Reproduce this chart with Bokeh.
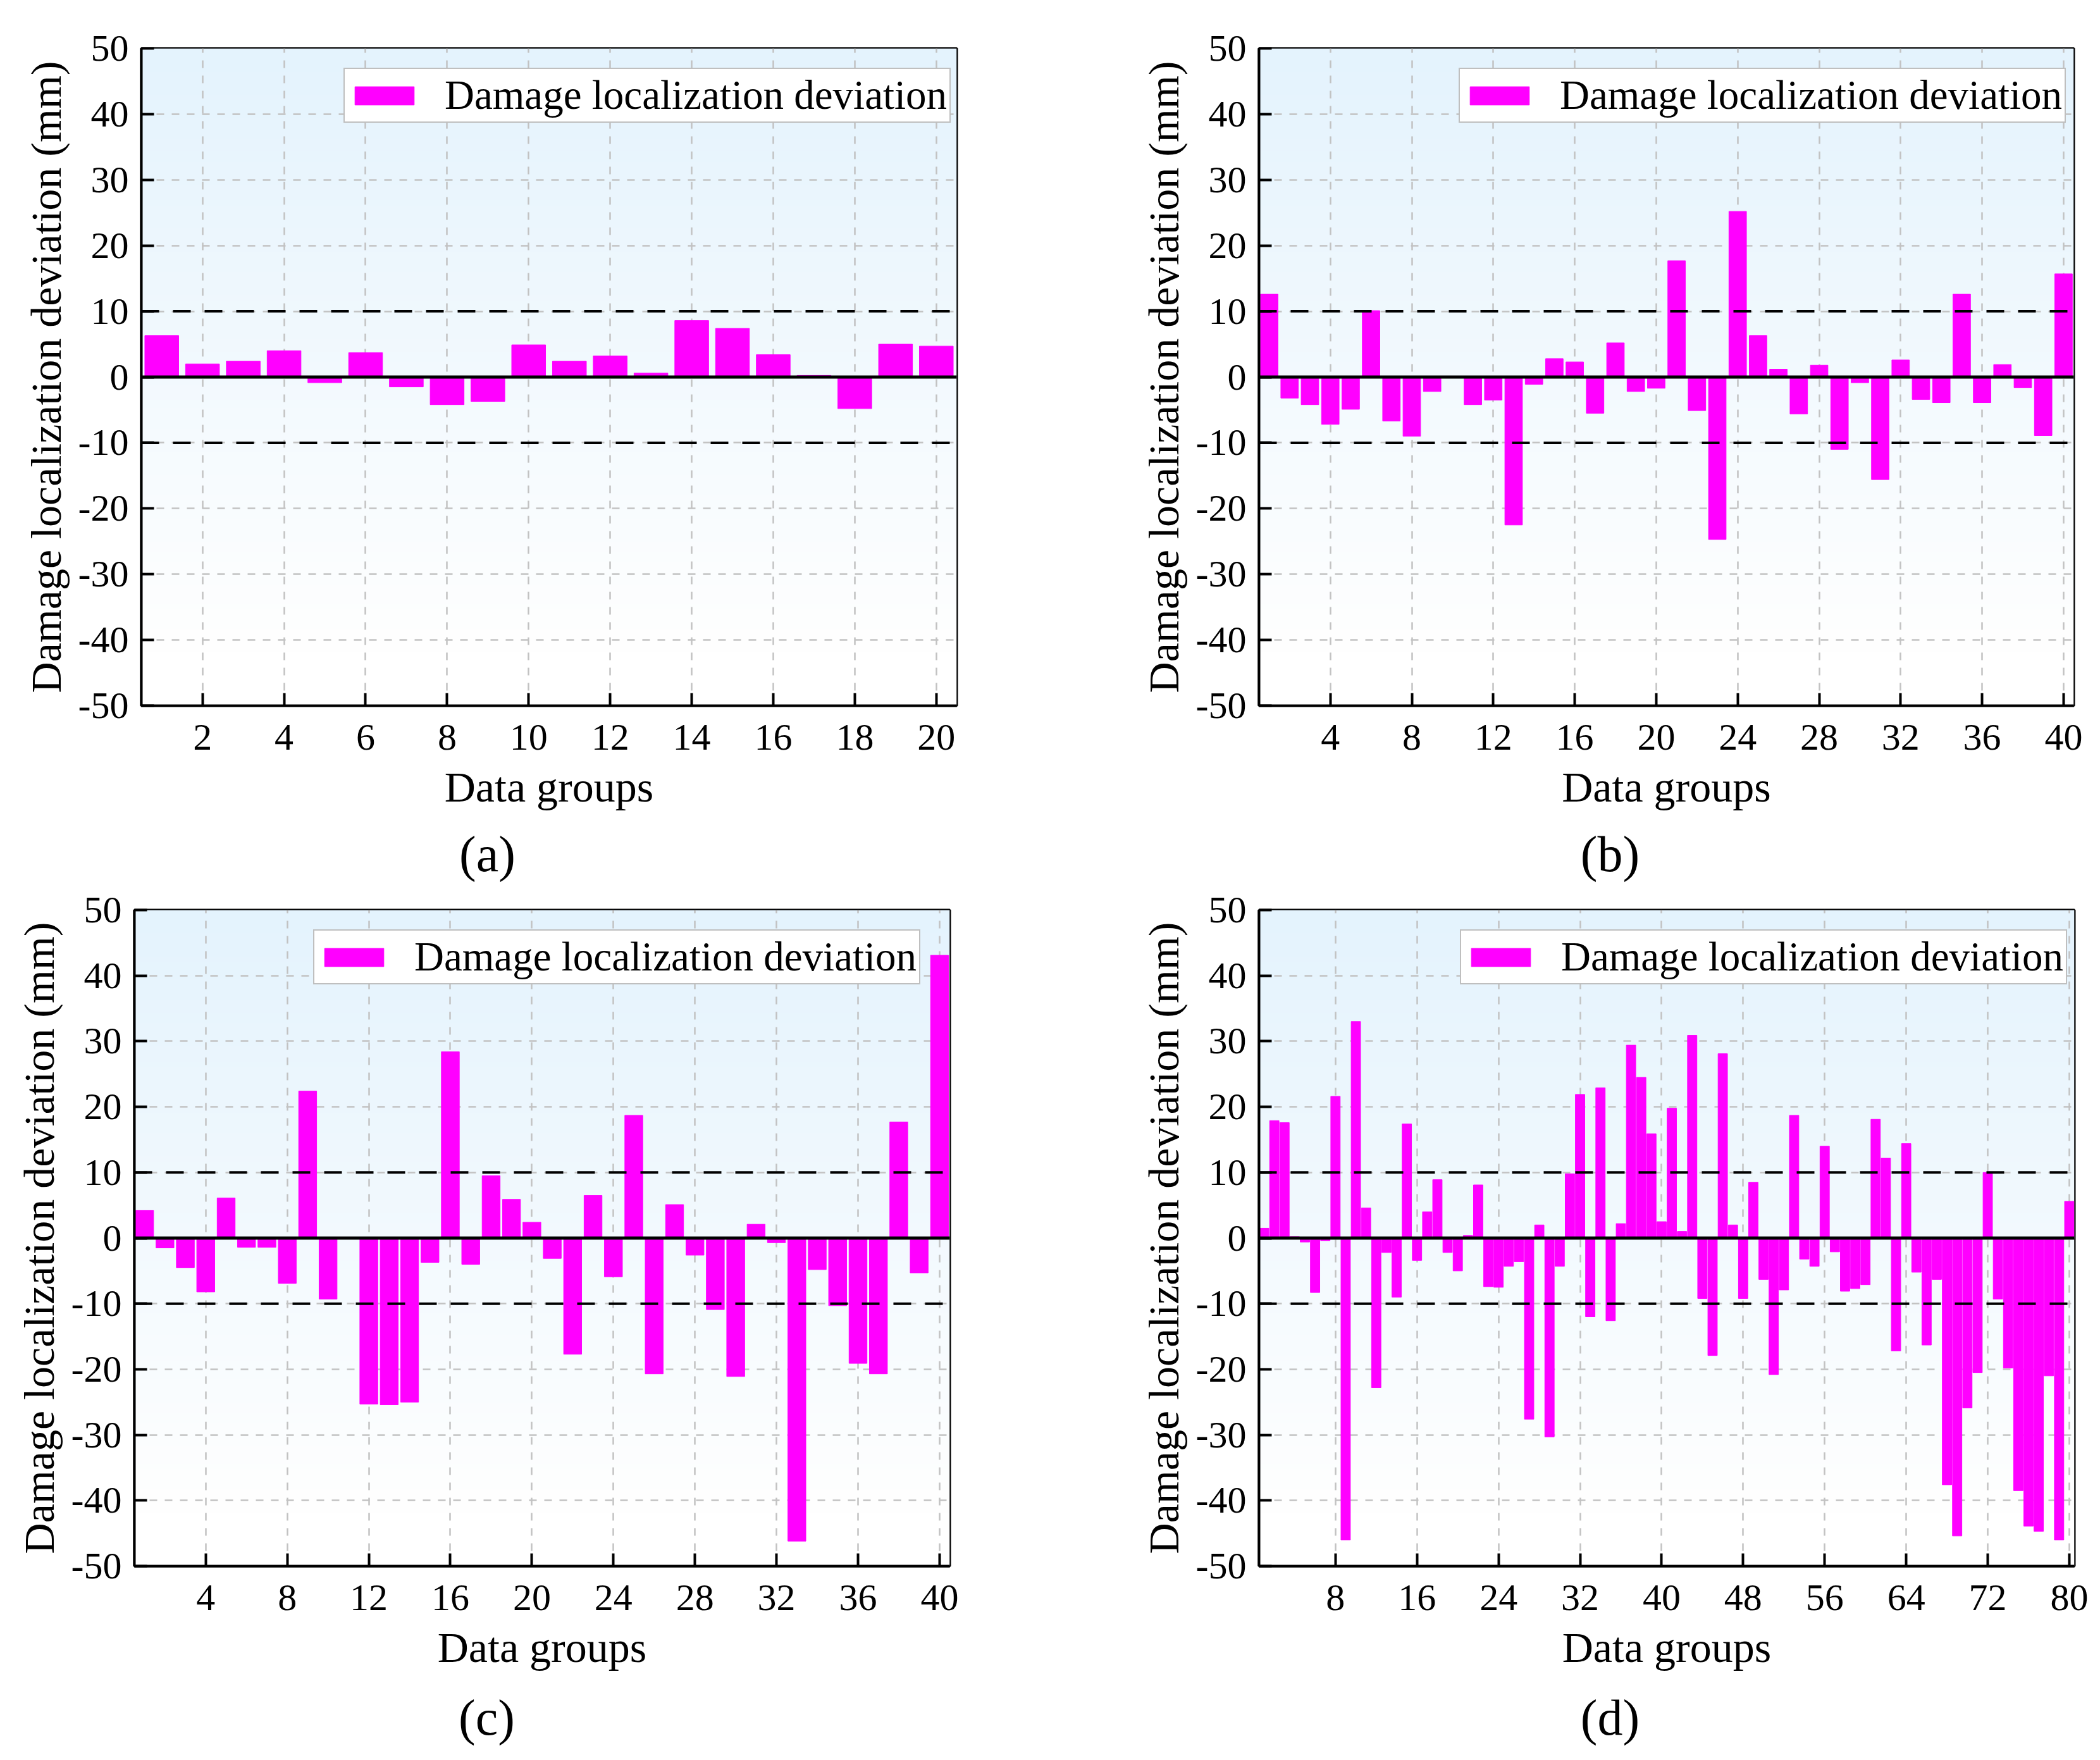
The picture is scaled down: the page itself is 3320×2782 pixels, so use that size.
import numpy as np
from bokeh.plotting import figure
from bokeh.models import Span, Legend, LegendItem, FixedTicker, Label, Range1d
from bokeh.layouts import column, row
from bokeh.embed import file_html
from bokeh.resources import INLINE

# ---------------- data ----------------
groups_a = list(range(1, 21))
dev_a = [6.3, 2.0, 2.4, 4.0, -0.85, 3.7, -1.5, -4.2, -3.7, 4.9,
         2.4, 3.2, 0.6, 8.6, 7.4, 3.4, 0.25, -4.8, 5.0, 4.7]

groups_b = list(range(1, 41))
dev_b = [12.6, -3.2, -4.2, -7.2, -4.9, 10.1, -6.7, -9.0, -2.2, 0.0,
         -4.2, -3.5, -22.5, -1.1, 2.8, 2.3, -5.5, 5.2, -2.2, -1.7,
         17.7, -5.1, -24.7, 25.2, 6.3, 1.2, -5.6, 1.8, -11.0, -0.85,
         -15.6, 2.6, -3.4, -3.9, 12.6, -3.9, 1.9, -1.6, -8.9, 15.7]

groups_c = list(range(1, 41))
dev_c = [4.2, -1.5, -4.5, -8.2, 6.1, -1.4, -1.4, -6.9, 22.4, -9.3,
         0.0, -25.3, -25.4, -25.0, -3.7, 28.4, -4.0, 9.5, 5.9, 2.4,
         -3.1, -17.7, 6.5, -5.9, 18.7, -20.7, 5.1, -2.6, -10.9, -21.1,
         2.1, -0.7, -46.2, -4.8, -10.3, -19.1, -20.7, 17.7, -5.3, 43.1]

groups_d = list(range(1, 81))
dev_d = [1.5, 17.9, 17.6, 0.2, -0.6, -8.3, -0.4, 21.6, -46.0, 33.0,
         4.6, -22.8, -2.2, -9.0, 17.4, -3.4, 4.0, 8.9, -2.2, -5.0,
         0.4, 8.1, -7.4, -7.5, -4.3, -3.6, -27.6, 2.0, -30.3, -4.3,
         9.8, 21.9, -12.0, 22.9, -12.6, 2.2, 29.4, 24.5, 15.9, 2.5,
         19.8, 1.0, 30.9, -9.2, -17.9, 28.1, 2.0, -9.2, 8.5, -6.3,
         -20.8, -7.9, 18.7, -3.2, -4.3, 14.0, -2.1, -8.1, -7.7, -7.1,
         18.1, 12.2, -17.2, 14.4, -5.2, -16.3, -6.3, -37.6, -45.4, -25.9,
         -20.5, 10.0, -9.3, -19.8, -38.5, -43.9, -44.7, -21.0, -46.0, 5.6]

ticks_a = [2, 4, 6, 8, 10, 12, 14, 16, 18, 20]
ticks_bc = [4, 8, 12, 16, 20, 24, 28, 32, 36, 40]
ticks_d = [8, 16, 24, 32, 40, 48, 56, 64, 72, 80]
y_ticks = [-50, -40, -30, -20, -10, 0, 10, 20, 30, 40, 50]
threshold = [10, -10]

legend_label = "Damage localization deviation"
x_label = "Data groups"
y_label = "Damage localization deviation (mm)"
captions = ["(a)", "(b)", "(c)", "(d)"]

SERIF = "Liberation Serif"
MAGENTA = "#ff00ff"
HALF_W = 1660


def gradient_image(n=256):
    t = np.linspace(0.0, 1.0, n)           # 0 = bottom, 1 = top
    w = np.clip((t - 0.08) / 0.92, 0, 1)
    top = np.array([228, 243, 253], dtype=float)
    white = np.array([255, 255, 255], dtype=float)
    cols = white[None, :] * (1 - w[:, None]) + top[None, :] * w[:, None]
    img = np.empty((n, 1), dtype=np.uint32)
    view = img.view(dtype=np.uint8).reshape((n, 1, 4))
    view[:, 0, 0] = cols[:, 0].astype(np.uint8)
    view[:, 0, 1] = cols[:, 1].astype(np.uint8)
    view[:, 0, 2] = cols[:, 2].astype(np.uint8)
    view[:, 0, 3] = 255
    return img


def make_panel(groups, values, xticks, bar_w,
               b_left, b_right, b_top, b_bottom, fw, fh, leg_x):
    n = len(groups)
    p = figure(frame_width=fw, frame_height=fh,
               min_border_left=b_left, min_border_right=b_right,
               min_border_top=b_top, min_border_bottom=b_bottom,
               output_backend="svg", toolbar_location=None,
               x_range=Range1d(0.5, n + 0.5), y_range=Range1d(-50, 50))
    p.background_fill_color = "white"
    p.border_fill_color = "white"
    p.outline_line_color = "black"
    p.outline_line_width = 4
    p.outline_line_alpha = 1.0

    p.image_rgba(image=[gradient_image()], x=0.5, y=-50, dw=n, dh=100,
                 level="image")

    r = p.vbar(x=groups, top=values, bottom=0, width=bar_w,
               fill_color=MAGENTA, line_color=MAGENTA, line_width=1)

    for v in threshold:
        p.add_layout(Span(location=v, dimension="width", line_color="black",
                          line_width=4, line_dash="28 22"))
    p.add_layout(Span(location=0, dimension="width", line_color="black",
                      line_width=5))

    # axes
    p.xaxis.ticker = FixedTicker(ticks=xticks)
    p.yaxis.ticker = FixedTicker(ticks=y_ticks)
    p.yaxis.major_label_overrides = {v: f"{v}" for v in y_ticks}
    p.xaxis.axis_label = x_label
    p.yaxis.axis_label = y_label
    for ax in (p.xaxis[0], p.yaxis[0]):
        ax.axis_line_color = "black"
        ax.axis_line_width = 4
        ax.major_tick_in = 20
        ax.major_tick_out = 0
        ax.major_tick_line_width = 4
        ax.major_tick_line_color = "black"
        ax.minor_tick_line_color = None
        ax.major_label_text_font = SERIF
        ax.major_label_text_font_size = "60px"
        ax.major_label_text_color = "black"
        ax.axis_label_text_font = SERIF
        ax.axis_label_text_font_size = "68px"
        ax.axis_label_text_font_style = "normal"
        ax.axis_label_text_color = "black"
    p.xaxis.major_label_standoff = 30
    p.xaxis.axis_label_standoff = 18
    p.yaxis.major_label_standoff = 20
    p.yaxis.axis_label_standoff = 10

    # grid
    for g in (p.xgrid[0], p.ygrid[0]):
        g.grid_line_color = "#c2c2c2"
        g.grid_line_width = 2.5
        g.grid_line_dash = "12 12"

    # legend
    leg_h = 86
    legend = Legend(items=[LegendItem(label=legend_label, renderers=[r])],
                    location=(leg_x, fh - 32 - leg_h),
                    border_line_color="#7f7f7f", border_line_width=2,
                    background_fill_color="white", background_fill_alpha=1.0,
                    label_text_font=SERIF, label_text_font_size="65px",
                    label_text_color="black",
                    glyph_width=117, glyph_height=36, label_standoff=37,
                    padding=4, margin=0, spacing=0)
    p.add_layout(legend)
    return p


def caption_band(text, cx, height, cy):
    """A strip holding a sub-figure caption (a)/(b)/... ."""
    f = figure(width=HALF_W, height=height, min_border=0,
               min_border_left=0, min_border_right=0,
               min_border_top=0, min_border_bottom=0,
               x_axis_type=None, y_axis_type=None,
               x_range=Range1d(0, 1), y_range=Range1d(0, 1),
               output_backend="svg", toolbar_location=None)
    f.outline_line_color = None
    f.background_fill_color = "white"
    f.border_fill_color = "white"
    f.grid.visible = False
    f.add_layout(Label(x=cx, y=cy, x_units="screen", y_units="screen",
                       text=text, text_align="center",
                       text_baseline="middle", text_font=SERIF,
                       text_font_size="80px", text_color="black"))
    return f


# page has no body margin: borders measured from the page's top-left corner
pa = make_panel(groups_a, dev_a, ticks_a, 0.83,
                223, 148, 76, 192, 1289, 1039, 320)
pb = make_panel(groups_b, dev_b, ticks_bc, 0.86,
                330, 42, 76, 192, 1288, 1039, 316)
pc = make_panel(groups_c, dev_c, ticks_bc, 0.88,
                212, 159, 36, 192, 1289, 1037, 283)
pd = make_panel(groups_d, dev_d, ticks_d, 0.92,
                330, 41, 36, 192, 1289, 1037, 318)

cap_a = caption_band(captions[0], 770, 95, 53)
cap_b = caption_band(captions[1], 885, 95, 53)
cap_c = caption_band(captions[2], 769, 100, 53)
cap_d = caption_band(captions[3], 885, 100, 53)

layout = column(row(pa, pb), row(cap_a, cap_b),
                row(pc, pd), row(cap_c, cap_d))

open("out.html", "w").write(file_html(layout, INLINE))
